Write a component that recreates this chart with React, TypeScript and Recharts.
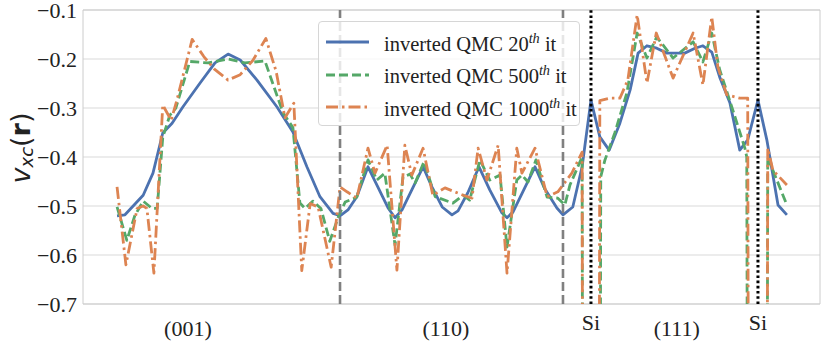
import React from 'react'
import {
  LineChart,
  Line,
  XAxis,
  YAxis,
  CartesianGrid,
  ReferenceLine,
  ReferenceArea,
  Legend,
} from 'recharts'

type Pt = [number, number]

// vertices: [distance along the path, v_xc]
const qmc20: Pt[] = [
  [7.3, -0.52], [9.0, -0.518], [12.9, -0.478], [15.0, -0.433], [17.1, -0.351], [19.1, -0.331],
  [21.4, -0.298], [25.1, -0.249], [28.3, -0.208], [31.1, -0.19], [33.7, -0.202], [37.3, -0.243],
  [41.6, -0.298], [45.0, -0.349], [48.0, -0.42], [50.8, -0.481], [53.6, -0.515], [55.1, -0.52],
  [56.8, -0.508], [58.7, -0.481], [61.1, -0.42], [63.2, -0.461], [65.4, -0.504], [66.9, -0.524],
  [68.4, -0.508], [70.7, -0.463], [72.9, -0.42], [74.8, -0.461], [77.0, -0.502], [79.1, -0.518],
  [80.4, -0.51], [82.5, -0.473], [84.9, -0.42], [87.2, -0.467], [89.8, -0.514], [90.9, -0.524],
  [92.2, -0.512], [94.7, -0.463], [96.9, -0.42], [99.0, -0.465], [101.6, -0.504], [102.9, -0.518],
  [105.0, -0.502], [107.0, -0.42], [108.9, -0.284], [110.8, -0.359], [112.8, -0.386], [115.1, -0.331],
  [117.3, -0.263], [119.0, -0.188], [120.9, -0.173], [123.0, -0.178], [125.2, -0.188], [129.0, -0.188],
  [131.2, -0.178], [132.9, -0.173], [134.8, -0.186], [136.5, -0.237], [138.7, -0.29], [140.8, -0.386],
  [142.5, -0.365], [144.7, -0.284], [146.6, -0.365], [149.0, -0.498], [150.9, -0.518],
]

const qmc500: Pt[] = [
  [7.3, -0.502], [9.4, -0.57], [11.1, -0.52], [12.9, -0.49], [14.8, -0.505], [15.9, -0.505],
  [17.1, -0.36], [18.6, -0.315], [19.9, -0.3], [22.9, -0.205], [26.8, -0.208], [31.1, -0.2],
  [34.7, -0.208], [39.0, -0.204], [42.9, -0.31], [45.0, -0.34], [46.5, -0.494], [47.6, -0.505],
  [49.3, -0.49], [51.0, -0.505], [52.9, -0.572], [54.9, -0.518], [56.2, -0.492], [58.7, -0.482],
  [61.1, -0.406], [63.0, -0.447], [64.7, -0.433], [66.9, -0.58], [68.6, -0.441], [70.1, -0.435],
  [71.2, -0.453], [73.1, -0.41], [75.5, -0.481], [79.3, -0.494], [81.5, -0.478], [82.9, -0.488],
  [85.1, -0.406], [87.2, -0.447], [89.4, -0.437], [90.9, -0.584], [93.0, -0.447], [94.1, -0.437],
  [95.4, -0.451], [97.1, -0.406], [99.5, -0.482], [101.8, -0.484], [103.3, -0.498], [104.4, -0.457],
  [107.0, -0.4], [108.9, -10], [111.0, -0.44], [111.9, -0.406], [114.0, -0.351], [116.6, -0.269],
  [118.8, -0.147], [120.9, -0.198], [123.0, -0.155], [126.5, -0.198], [130.8, -0.165], [132.9, -0.206],
  [134.8, -0.147], [136.5, -0.222], [139.3, -0.304], [141.9, -0.382], [142.3, -0.4], [144.7, -10],
  [146.8, -0.4], [147.9, -0.427], [150.9, -0.498],
]

const qmc1000: Pt[] = [
  [7.3, -0.461], [9.2, -0.62], [11.6, -0.505], [12.9, -0.5], [13.7, -0.505], [15.2, -0.637],
  [17.1, -0.294], [18.9, -0.325], [20.1, -0.285], [23.4, -0.16], [25.9, -0.195], [28.1, -0.22],
  [31.1, -0.243], [33.7, -0.232], [36.4, -0.203], [39.2, -0.158], [41.4, -0.225], [43.3, -0.32],
  [45.2, -0.29], [46.9, -0.632], [48.7, -0.495], [50.4, -0.502], [53.2, -0.625], [55.1, -0.461],
  [56.6, -0.471], [58.7, -0.484], [61.1, -0.382], [62.6, -0.433], [65.2, -0.376], [67.3, -0.631],
  [69.0, -0.376], [70.5, -0.437], [72.9, -0.382], [75.0, -0.478], [77.6, -0.463], [81.5, -0.478],
  [83.4, -0.484], [84.7, -0.382], [86.6, -0.447], [89.0, -0.376], [90.9, -0.637], [93.0, -0.382],
  [94.1, -0.433], [96.9, -0.382], [99.5, -0.481], [101.8, -0.471], [104.8, -0.433], [107.0, -0.39],
  [108.9, -10], [110.8, -0.285], [113.0, -0.28], [115.1, -0.28], [116.8, -0.243], [118.8, -0.11],
  [120.9, -0.249], [122.9, -0.147], [126.5, -0.239], [130.8, -0.147], [132.9, -0.253], [134.8, -0.114],
  [136.1, -0.216], [138.0, -0.273], [140.8, -0.28], [142.5, -0.28], [144.7, -10], [146.8, -0.382],
  [147.9, -0.427], [150.9, -0.457],
]

const yTicks = [-0.7, -0.6, -0.5, -0.4, -0.3, -0.2, -0.1]
const xTickPos = [22.5, 77.8, 108.9, 127.3, 144.7]
const xTickLabels = ['(001)', '(110)', 'Si', '(111)', 'Si']
const planeEdges = [55.1, 102.9]
const siSites = [108.9, 144.7]
const iterations = ['20', '500', '1000']

const COLORS = ['#4C72B0', '#55A868', '#DD8452']
const DASHES = [undefined, '9 4', '12 4 2.5 4']
const SERIF = 'Liberation Serif, serif'
const TEXT = '#222222'
const LW = 2.8

const toRows = (pts: Pt[]) => pts.map(([x, v]) => ({ x, v }))
const fmtY = (v: number) => v.toFixed(1).replace('-', '\u2212')

function PathTick(props: any) {
  const { x, y, payload } = props
  const i = xTickPos.indexOf(payload.value)
  const label = xTickLabels[i] ?? ''
  const isSi = label === 'Si'
  return (
    <text x={x} y={y + (isSi ? 26 : 32)} textAnchor="middle" fill={TEXT} fontFamily={SERIF} fontSize={22}>
      {label}
    </text>
  )
}

function ValueTick(props: any) {
  const { x, y, payload } = props
  return (
    <text x={x} y={y} dy={7.5} textAnchor="end" fill={TEXT} fontFamily={SERIF} fontSize={22}>
      {fmtY(payload.value)}
    </text>
  )
}

function YLabel() {
  return (
    <text
      x={20}
      y={148}
      transform="rotate(-90, 20, 148)"
      textAnchor="middle"
      dominantBaseline="central"
      fill={TEXT}
      fontFamily="DejaVu Sans, sans-serif"
      fontSize={27}
    >
      <tspan fontStyle="italic">v</tspan>
      <tspan fontStyle="italic" fontSize={18} dy={6}>xc</tspan>
      <tspan dy={-6}>(</tspan>
      <tspan fontWeight="bold">r</tspan>
      <tspan>)</tspan>
    </text>
  )
}

function LegendBox() {
  return (
    <div
      style={{
        boxSizing: 'border-box',
        width: 262,
        height: 105,
        border: '1px solid #d6d6d6',
        borderRadius: 4,
        background: 'rgba(255,255,255,0.8)',
        padding: '4px 0 0 7px',
        fontFamily: SERIF,
        fontSize: 20.5,
        color: TEXT,
        textAlign: 'left',
      }}
    >
      {iterations.map((it, i) => (
        <div key={it} style={{ display: 'flex', alignItems: 'center', height: 32.5 }}>
          <svg width={43} height={10}>
            <line x1={0} y1={5} x2={43} y2={5} stroke={COLORS[i]} strokeWidth={LW} strokeDasharray={DASHES[i]} />
          </svg>
          <span style={{ marginLeft: 15, whiteSpace: 'nowrap', lineHeight: 1, fontFamily: SERIF }}>
            inverted QMC {it}
            <sup style={{ fontStyle: 'italic', fontSize: '0.7em' }}>th</sup> it
          </span>
        </div>
      ))}
    </div>
  )
}

export default function App() {
  const series = [qmc20, qmc500, qmc1000]
  return (
    <div style={{ width: 830, height: 343, background: '#fff' }}>
      <style>{'body{margin:0}'}</style>
      <LineChart width={830} height={343} margin={{ top: 10, right: 10, bottom: 0, left: 0 }}>
        <CartesianGrid vertical={false} stroke="#d9d9d9" strokeWidth={1} />
        <ReferenceArea x1={0} x2={158} y1={-0.7} y2={-0.1} fill="none" stroke="#cccccc" strokeWidth={1} />
        <XAxis
          dataKey="x"
          type="number"
          domain={[0, 158]}
          ticks={xTickPos}
          interval={0}
          height={39}
          axisLine={false}
          tickLine={false}
          tickSize={0}
          tickMargin={0}
          tick={<PathTick />}
          allowDataOverflow
        />
        <YAxis
          type="number"
          domain={[-0.7, -0.1]}
          ticks={yTicks}
          interval={0}
          width={83}
          axisLine={false}
          tickLine={false}
          tickSize={0}
          tickMargin={6}
          tick={<ValueTick />}
          allowDataOverflow
          label={YLabel}
        />
        {series.map((pts, i) => (
          <Line
            key={iterations[i]}
            data={toRows(pts)}
            dataKey="v"
            name={`inverted QMC ${iterations[i]}th it`}
            stroke={COLORS[i]}
            strokeWidth={LW}
            strokeDasharray={DASHES[i]}
            strokeLinejoin="round"
            dot={false}
            activeDot={false}
            isAnimationActive={false}
          />
        ))}
        {planeEdges.map((x) => (
          <ReferenceLine key={`p${x}`} x={x} stroke="#808080" strokeWidth={2.6} strokeDasharray="9 4" />
        ))}
        {siSites.map((x) => (
          <ReferenceLine key={`s${x}`} x={x} stroke="#000000" strokeWidth={3} strokeDasharray="2.6 2.6" />
        ))}
        <Legend
          layout="horizontal"
          verticalAlign="middle"
          align="center"
          wrapperStyle={{ left: 318, top: 21, width: 262, height: 105 }}
          content={() => <LegendBox />}
        />
      </LineChart>
    </div>
  )
}
